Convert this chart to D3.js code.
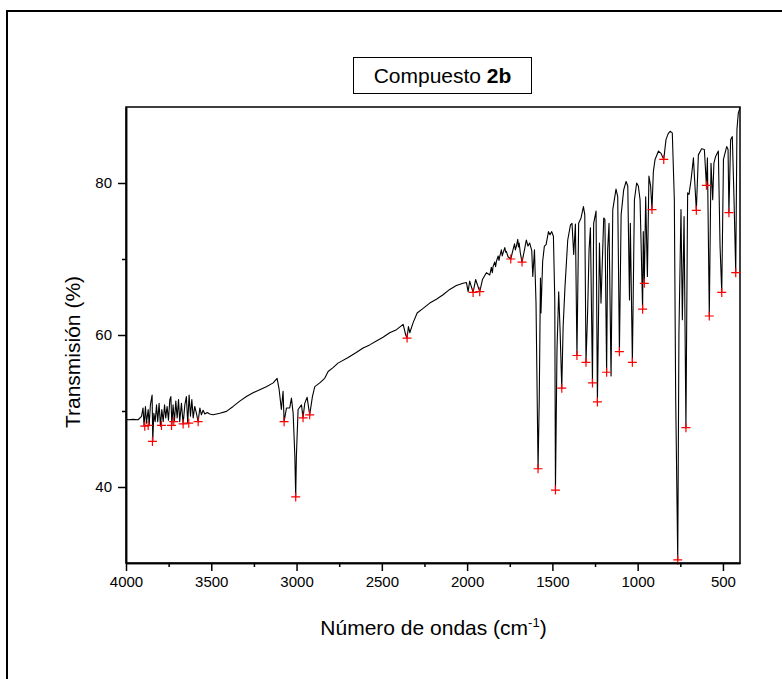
<!doctype html>
<html>
    <head>
        <meta charset="utf-8">
        <title>IR espectro compuesto 2b</title>
        <script src="https://d3js.org/d3.v7.min.js"></script>
        <style type="text/css">
            body { margin:0; background:#fff; }
            text { font-family:Arial, "Liberation Sans", sans-serif; fill:#000; }
            .axis text { font-size:15px; font-family:Arial, "Liberation Sans", sans-serif; }
            .axis path, .axis line { stroke:#000; stroke-width:1.5px; }
        </style>
    </head>
    <body>
        <svg></svg>
        <script type="text/javascript">

            var w = 782,
                h = 679;

            var plotLeft = 126, plotRight = 740, plotTop = 107, plotBottom = 563;

            // spectrum, cm-1 / % transmission
            var wavenumber = [
                4000, 3988, 3958, 3929, 3909, 3900, 3894, 3886, 3880, 3870,
                3864, 3857, 3847, 3843, 3837, 3829, 3821, 3814, 3806, 3798,
                3790, 3782, 3774, 3767, 3759, 3751, 3743, 3737, 3731, 3724,
                3716, 3708, 3700, 3692, 3685, 3675, 3665, 3655, 3646, 3638,
                3630, 3622, 3614, 3606, 3597, 3587, 3577, 3567, 3558, 3548,
                3538, 3524, 3509, 3489, 3450, 3411, 3372, 3333, 3294, 3255,
                3216, 3177, 3137, 3114, 3102, 3089, 3079, 3073, 3059, 3040,
                3030, 3020, 3010, 3005, 3001, 2991, 2971, 2962, 2952, 2938,
                2923, 2907, 2893, 2864, 2835, 2815, 2786, 2757, 2700, 2650,
                2610, 2571, 2532, 2493, 2454, 2414, 2375, 2360, 2352, 2344,
                2336, 2317, 2293, 2258, 2219, 2180, 2141, 2102, 2063, 2024,
                2004, 1994, 1985, 1965, 1950, 1926, 1910, 1887, 1867, 1858,
                1852, 1848, 1838, 1833, 1828, 1818, 1813, 1809, 1799, 1794,
                1789, 1779, 1774, 1770, 1760, 1744, 1731, 1722, 1717, 1711,
                1703, 1699, 1695, 1688,
                1678, 1662, 1653, 1643, 1633, 1621, 1615, 1605, 1596, 1584,
                1577, 1570, 1567, 1557, 1547, 1537, 1523, 1514, 1504, 1494,
                1486, 1482, 1473, 1463, 1455, 1445, 1437, 1426, 1410, 1394,
                1385, 1375, 1365, 1356, 1346, 1332, 1318, 1310, 1303, 1293,
                1285, 1277, 1265, 1258, 1244, 1236, 1224, 1215, 1199, 1192,
                1182, 1176, 1168, 1156, 1146, 1127, 1117, 1107, 1097, 1082,
                1068, 1058, 1048, 1043, 1031, 1019, 1006, 996, 986, 971,
                967, 961, 953, 943, 934, 924, 916, 908, 898, 878,
                863, 847, 834, 821, 810, 797, 785, 777, 765, 758,
                746, 738, 728, 717, 707, 699, 687, 673, 666, 656,
                644, 625, 609, 597, 591, 580, 570, 560, 553, 543,
                527, 517, 507, 497, 478, 470, 465, 455, 445, 435,
                425, 418, 410, 400
            ];

            var transmission = [
                48.9, 48.85, 48.9, 48.85, 49.3, 50.4, 48.0, 50.6, 48.4, 50.2,
                48.2, 50.8, 52.1, 46.0, 49.7, 48.6, 50.8, 48.6, 51.0, 48.0,
                50.2, 48.6, 50.8, 49.1, 50.6, 48.8, 51.5, 51.9, 48.2, 50.8,
                48.6, 51.3, 49.1, 51.5, 48.6, 51.0, 48.3, 50.8, 51.9, 48.4,
                52.1, 49.3, 51.5, 49.1, 50.6, 49.7, 48.6, 50.4, 49.5, 50.1,
                49.6, 49.8, 49.6, 49.5, 49.7, 49.95, 50.6, 51.3, 51.9, 52.4,
                52.8, 53.2, 53.7, 54.3, 52.8, 50.2, 52.6, 48.6, 50.4, 50.4,
                51.7, 49.7, 44.0, 38.7, 44.0, 50.2, 50.8, 49.1, 51.0, 51.8,
                49.5, 51.9, 53.2, 53.7, 54.3, 55.2, 55.7, 56.3, 57.0, 57.7,
                58.3, 58.7, 59.2, 59.7, 60.3, 60.7, 61.4, 60.0, 59.6, 61.1,
                60.3, 61.6, 62.9, 63.5, 64.2, 64.7, 65.3, 66.0, 66.5, 66.8,
                66.9, 65.7, 67.1, 65.6, 67.3, 65.7, 67.3, 68.2, 67.9, 68.9,
                68.2, 69.0, 69.6, 69.0, 69.7, 70.4, 69.8, 70.3, 71.2, 70.4,
                70.8, 71.5, 70.9, 71.0, 70.3, 70.0, 71.2, 72.0, 71.2, 71.7,
                72.6, 71.6, 72.1, 70.8,
                69.6, 71.4, 72.5, 71.7, 72.1, 71.1, 67.7, 71.2, 64.2, 42.4,
                51.5, 67.5, 62.9, 69.7, 71.7, 71.9, 73.6, 73.2, 73.6, 73.0,
                64.6, 39.6, 58.1, 65.7, 60.7, 53.0, 61.1, 66.4, 72.5, 74.5,
                74.7, 70.6, 74.6, 57.3, 74.7, 75.4, 76.9, 75.8, 56.4, 63.3,
                71.2, 74.1, 53.7, 74.7, 76.3, 51.2, 72.1, 64.2, 75.4, 75.2,
                55.1, 71.2, 74.7, 54.6, 76.5, 79.2, 78.2, 57.8, 75.8, 79.1,
                80.2, 79.6, 64.6, 74.7, 56.4, 77.8, 80.0, 79.6, 77.8, 63.4,
                73.6, 66.8, 78.2, 67.7, 80.9, 79.6, 76.5, 81.5, 83.1, 84.2,
                83.9, 83.1, 85.7, 86.5, 86.8, 86.6, 77.8, 51.5, 30.4, 60.3,
                76.5, 62.0, 75.6, 47.8, 78.7, 78.5, 80.4, 83.3, 80.4, 76.4,
                83.7, 84.5, 84.4, 79.7, 83.3, 62.5, 82.6, 77.8, 82.6, 83.5,
                84.2, 71.7, 65.6, 83.1, 84.8, 84.4, 76.1, 85.7, 86.1, 77.8,
                68.2, 87.0, 89.2, 89.9
            ];

            // picked peaks (red crosses)
            var peakWn = [
                3890, 3870, 3845, 3792, 3733, 3720, 3665, 3632, 3577, 3073,
                3005, 2962, 2923, 2352, 1965, 1926, 1744, 1678, 1584, 1482,
                1445, 1356, 1303, 1265, 1236, 1182, 1107, 1031, 971, 961,
                916, 847, 765, 717, 656, 597, 580, 507, 465, 425
            ];
            var peakT = [
                48.0, 48.1, 46.0, 48.1, 48.1, 48.6, 48.3, 48.4, 48.6, 48.6,
                38.7, 49.1, 49.5, 59.6, 65.6, 65.7, 70.0, 69.6, 42.4, 39.6,
                53.0, 57.3, 56.4, 53.7, 51.2, 55.1, 57.8, 56.4, 63.4, 66.8,
                76.5, 83.1, 30.4, 47.8, 76.4, 79.7, 62.5, 65.6, 76.1, 68.2
            ];

            var xTicks = [4000, 3500, 3000, 2500, 2000, 1500, 1000, 500];
            var xMinor = [3750, 3250, 2750, 2250, 1750, 1250, 750];
            var yTicks = [40, 60, 80];
            var yMinor = [50, 70];

            var xScale = d3.scaleLinear()
                .domain([4000, 400])
                .range([plotLeft, plotRight]);

            var yScale = d3.scaleLinear()
                .domain([30, 90])
                .range([plotBottom, plotTop]);

            var svg = d3.select('svg')
                .attr('width', w)
                .attr('height', h);

            // outer frame of the figure
            svg.append('rect')
                .attr('x', 7)
                .attr('y', 11)
                .attr('width', 900)
                .attr('height', 900)
                .attr('fill', 'none')
                .attr('stroke', '#000')
                .attr('stroke-width', 2);

            // title box
            svg.append('rect')
                .attr('x', 353.5)
                .attr('y', 57.5)
                .attr('width', 178)
                .attr('height', 36)
                .attr('fill', '#fff')
                .attr('stroke', '#000')
                .attr('stroke-width', 1);

            var title = svg.append('text')
                .attr('x', 442.5)
                .attr('y', 83)
                .attr('text-anchor', 'middle')
                .style('font-size', '21px');
            title.append('tspan').text('Compuesto ');
            title.append('tspan').style('font-weight', 'bold').text('2b');

            // plot box (top and right edges)
            svg.append('rect')
                .attr('x', plotLeft)
                .attr('y', plotTop)
                .attr('width', plotRight - plotLeft)
                .attr('height', plotBottom - plotTop)
                .attr('fill', 'none')
                .attr('stroke', '#000')
                .attr('stroke-width', 1.5);

            var line = d3.line()
                .x(function(d) { return xScale(d[0]); })
                .y(function(d) { return yScale(d[1]); });

            var spectrum = wavenumber.map(function(d, i) {
                return [d, transmission[i]];
            });

            svg.append('path')
                .datum(spectrum)
                .attr('d', line)
                .attr('fill', 'none')
                .attr('stroke', '#000')
                .attr('stroke-width', 1.1)
                .attr('stroke-linejoin', 'round');

            var peaks = peakWn.map(function(d, i) {
                return [d, peakT[i]];
            });

            svg.selectAll('.peak')
                .data(peaks)
                .enter()
                .append('path')
                .attr('class', 'peak')
                .attr('transform', function(d) {
                    return 'translate(' + xScale(d[0]) + ',' + yScale(d[1]) + ')';
                })
                .attr('d', 'M-4.5,0H4.5M0,-4.5V4.5')
                .attr('stroke', '#ff0000')
                .attr('stroke-width', 1.2);

            // axes
            svg.append('g')
                .attr('class', 'x axis')
                .attr('transform', 'translate(0,' + plotBottom + ')')
                .call(d3.axisBottom(xScale)
                    .tickValues(xTicks)
                    .tickFormat(d3.format('d'))
                    .tickSize(8)
                    .tickSizeOuter(0)
                    .tickPadding(5));

            svg.append('g')
                .attr('class', 'x axis minor')
                .attr('transform', 'translate(0,' + plotBottom + ')')
                .call(d3.axisBottom(xScale)
                    .tickValues(xMinor)
                    .tickFormat('')
                    .tickSize(4)
                    .tickSizeOuter(0));

            svg.append('g')
                .attr('class', 'y axis')
                .attr('transform', 'translate(' + plotLeft + ',0)')
                .call(d3.axisLeft(yScale)
                    .tickValues(yTicks)
                    .tickSize(8)
                    .tickSizeOuter(0)
                    .tickPadding(6));

            svg.append('g')
                .attr('class', 'y axis minor')
                .attr('transform', 'translate(' + plotLeft + ',0)')
                .call(d3.axisLeft(yScale)
                    .tickValues(yMinor)
                    .tickFormat('')
                    .tickSize(4)
                    .tickSizeOuter(0));

            // axis titles
            var xTitle = svg.append('text')
                .attr('x', 433.5)
                .attr('y', 635)
                .attr('text-anchor', 'middle')
                .style('font-size', '21px');
            xTitle.append('tspan').text('Número de ondas (cm');
            xTitle.append('tspan')
                .attr('dy', '-8')
                .style('font-size', '13px')
                .text('-1');
            xTitle.append('tspan')
                .attr('dy', '8')
                .text(')');

            svg.append('text')
                .attr('transform', 'translate(80,352) rotate(-90)')
                .attr('text-anchor', 'middle')
                .style('font-size', '21px')
                .text('Transmisión (%)');
        </script>
    </body>
</html>
